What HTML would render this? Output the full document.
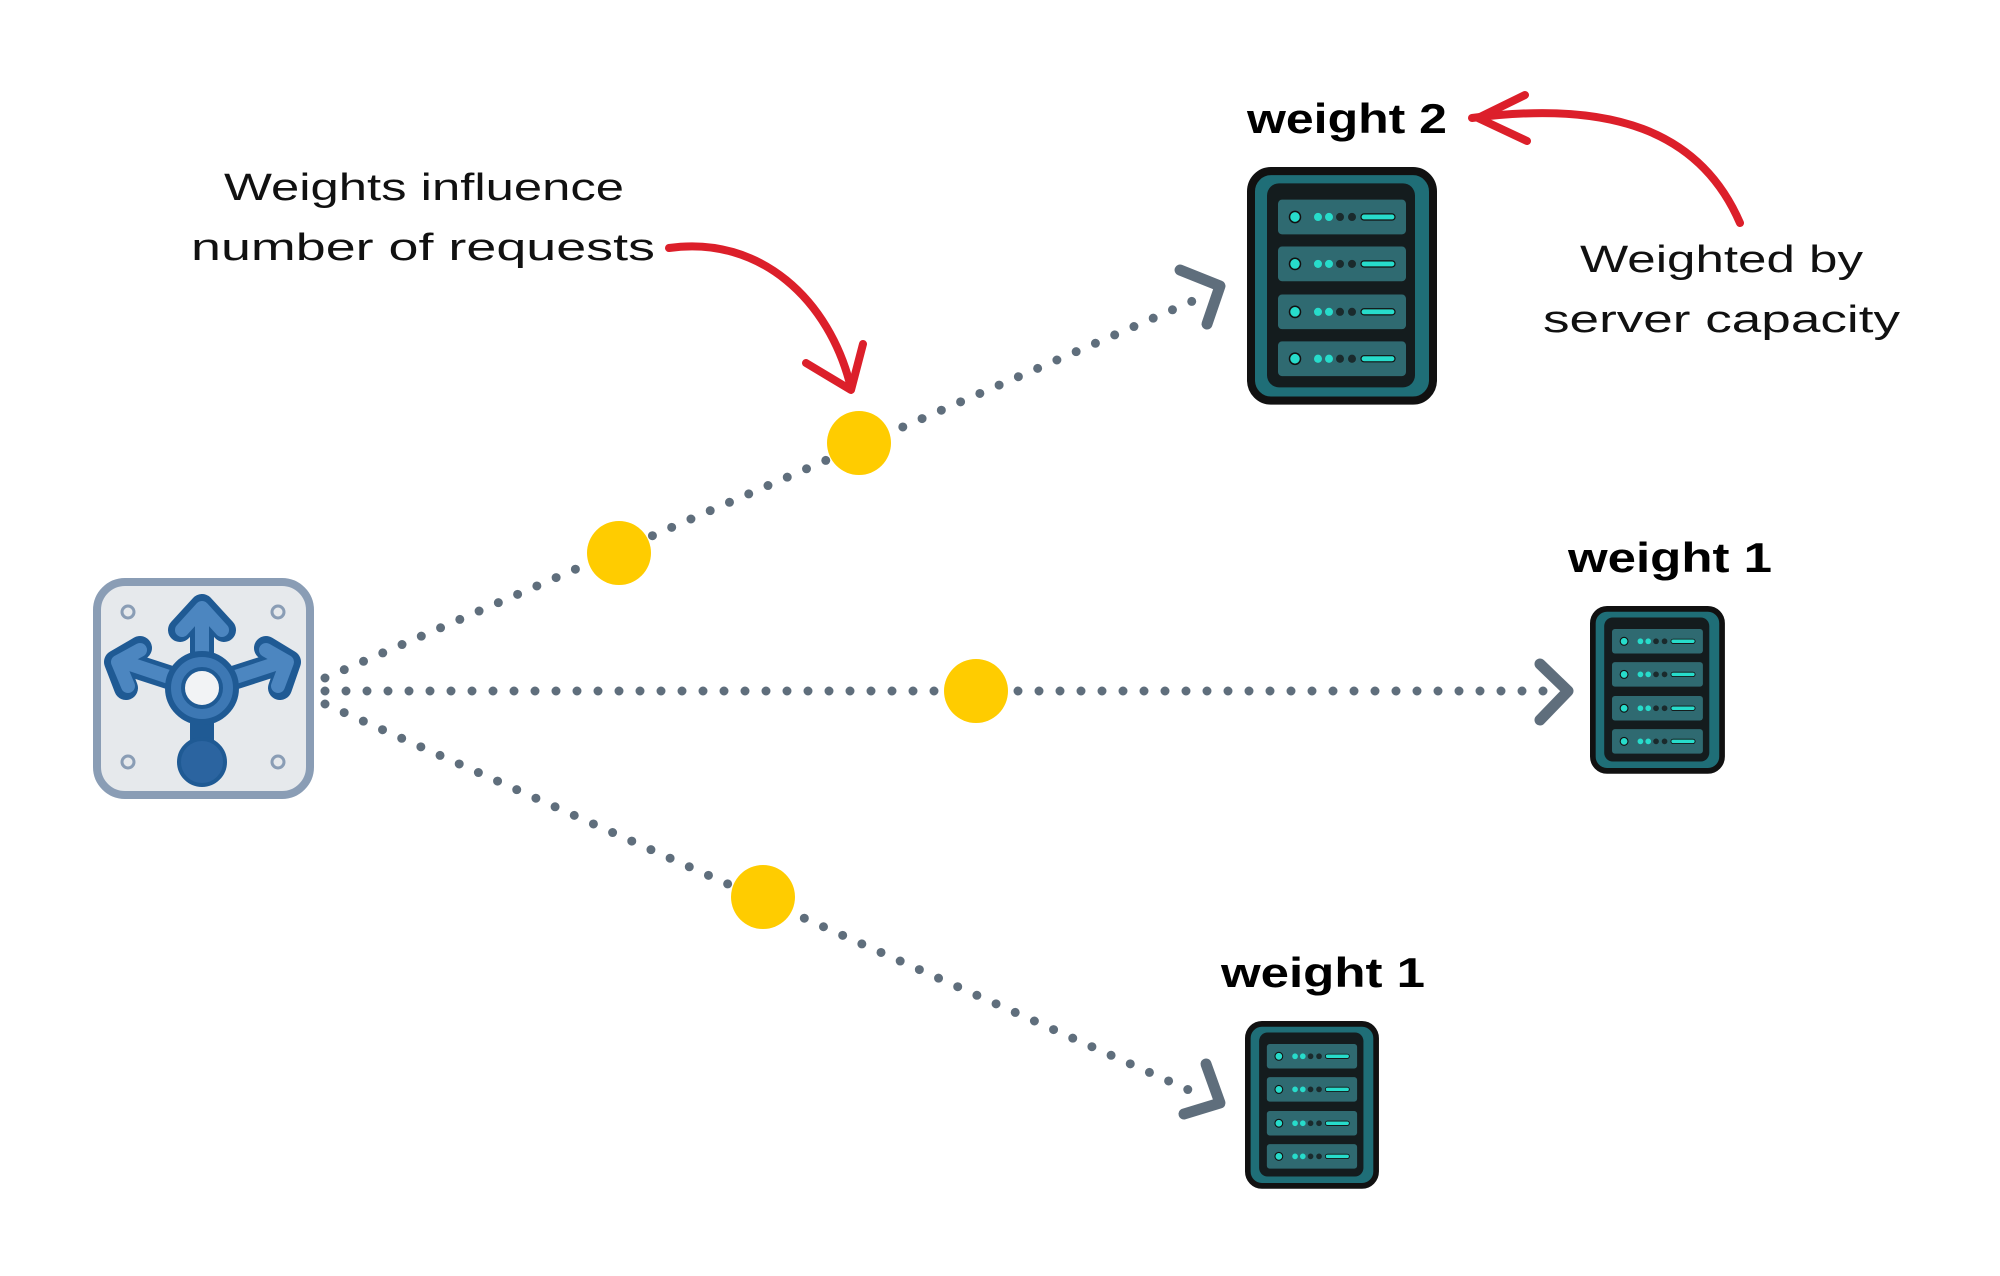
<!DOCTYPE html>
<html><head><meta charset="utf-8"><style>
html,body{margin:0;padding:0;background:#fff;}
svg{display:block;}
.hand{font-family:"Liberation Sans",sans-serif;font-size:38px;fill:#111;}
.bold{font-family:"Liberation Sans",sans-serif;font-size:42px;font-weight:bold;fill:#000;}
</style></head><body>
<svg width="2000" height="1276" viewBox="0 0 2000 1276" xmlns="http://www.w3.org/2000/svg">
<defs>
<g id="srv">
  <rect x="4" y="4" width="182" height="225" rx="20" fill="#1f6e77" stroke="#111" stroke-width="8"/>
  <rect x="20" y="16" width="148" height="200" rx="12" fill="#141c1e"/>
  <g id="slot">
    <rect x="31" y="32" width="128" height="34" rx="4" fill="#2f6a71"/>
    <circle cx="48" cy="49" r="5.5" fill="#27dccb" stroke="#111" stroke-width="1.5"/>
    <circle cx="71" cy="49" r="4" fill="#27dccb"/>
    <circle cx="82" cy="49" r="4" fill="#27dccb"/>
    <circle cx="93" cy="49" r="4" fill="#1a2a2c"/>
    <circle cx="105" cy="49" r="4" fill="#1a2a2c"/>
    <rect x="114" y="46" width="34" height="6" rx="3" fill="#27dccb" stroke="#111" stroke-width="1.2"/>
  </g>
  <use href="#slot" y="46"/>
  <use href="#slot" y="93"/>
  <use href="#slot" y="139"/>
</g>
</defs>

<g stroke="#5f6e7c" stroke-width="9" stroke-linecap="round" stroke-dasharray="0 21" fill="none">
  <line x1="325" y1="678" x2="1195" y2="300"/>
  <line x1="325" y1="691" x2="1555" y2="691"/>
  <line x1="325" y1="704" x2="1200" y2="1095"/>
</g>
<g stroke="#5f6e7c" stroke-width="11" stroke-linecap="round" stroke-linejoin="round" fill="none">
  <polyline points="1180,270 1220,286 1207,324"/>
  <polyline points="1540,664 1568,691 1540,720"/>
  <polyline points="1206,1064 1220,1103 1184,1114"/>
</g>
<g fill="#ffcc00">
  <circle cx="859" cy="443" r="32"/>
  <circle cx="619" cy="553" r="32"/>
  <circle cx="976" cy="691" r="32"/>
  <circle cx="763" cy="897" r="32"/>
</g>

<rect x="97" y="582" width="213" height="213" rx="28" fill="#e6e9ec" stroke="#8a9db5" stroke-width="8"/>
<g fill="none" stroke="#8a9db5" stroke-width="3">
  <circle cx="128" cy="612" r="6"/><circle cx="278" cy="612" r="6"/>
  <circle cx="128" cy="762" r="6"/><circle cx="278" cy="762" r="6"/>
</g>
<g stroke="#1f5a94" stroke-width="24" stroke-linecap="round" stroke-linejoin="round" fill="none">
  <line x1="202" y1="688" x2="202" y2="610"/>
  <polyline points="180,630 202,606 224,630"/>
  <line x1="202" y1="688" x2="122" y2="662"/>
  <polyline points="126,688 116,662 140,648"/>
  <line x1="202" y1="688" x2="283" y2="662"/>
  <polyline points="280,688 289,662 266,648"/>
  <line x1="202" y1="688" x2="202" y2="758"/>
</g>
<g stroke="#4c86c0" stroke-width="14" stroke-linecap="round" stroke-linejoin="round" fill="none">
  <line x1="202" y1="688" x2="202" y2="612"/>
  <polyline points="182,630 202,608 222,630"/>
  <line x1="202" y1="688" x2="124" y2="662"/>
  <polyline points="128,686 118,662 140,650"/>
  <line x1="202" y1="688" x2="281" y2="662"/>
  <polyline points="278,686 287,662 266,650"/>
</g>
<circle cx="202" cy="688" r="34" fill="#3d78b4" stroke="#1f5a94" stroke-width="6"/>
<circle cx="202" cy="688" r="19" fill="#f2f3f5" stroke="#1f5a94" stroke-width="4"/>
<circle cx="202" cy="762" r="23" fill="#2b64a0" stroke="#1f5a94" stroke-width="4"/>

<use href="#srv" transform="translate(1247,167) scale(1,1.02)"/>
<use href="#srv" transform="translate(1590,606) scale(0.71,0.72)"/>
<use href="#srv" transform="translate(1245,1021) scale(0.705,0.72)"/>

<text class="bold" x="1247" y="133" textLength="200" lengthAdjust="spacingAndGlyphs">weight  2</text>
<text class="bold" x="1568" y="572" textLength="204" lengthAdjust="spacingAndGlyphs">weight  1</text>
<text class="bold" x="1221" y="987" textLength="204" lengthAdjust="spacingAndGlyphs">weight  1</text>

<text class="hand" x="224" y="200" textLength="400" lengthAdjust="spacingAndGlyphs">Weights  influence</text>
<text class="hand" x="191" y="260" textLength="464" lengthAdjust="spacingAndGlyphs">number  of  requests</text>
<text class="hand" x="1580" y="272" textLength="283" lengthAdjust="spacingAndGlyphs">Weighted  by</text>
<text class="hand" x="1543" y="332" textLength="357" lengthAdjust="spacingAndGlyphs">server  capacity</text>

<g stroke="#dc1f2a" stroke-width="8" stroke-linecap="round" stroke-linejoin="round" fill="none">
  <path d="M669,248 C760,235 830,300 851,388"/>
  <polyline points="806,363 851,390 863,344"/>
  <path d="M1740,223 C1700,130 1610,100 1472,118"/>
  <polyline points="1525,95 1478,118 1527,141"/>
</g>
</svg>
</body></html>
